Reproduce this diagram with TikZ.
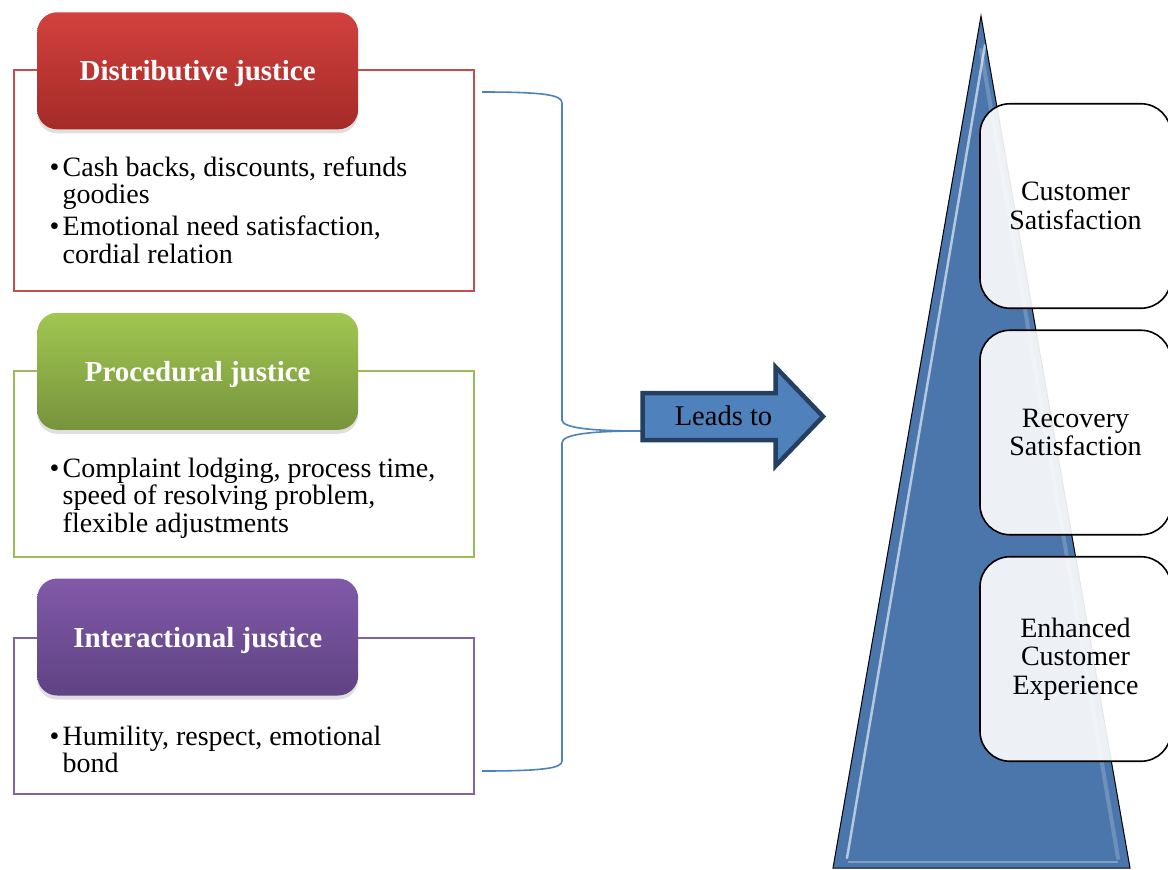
\documentclass[tikz,border=0pt]{standalone}
\usepackage{fontspec}
\setmainfont{Liberation Serif}
\usetikzlibrary{shadows}
\definecolor{redtop}{HTML}{D2413D}
\definecolor{redbot}{HTML}{A42B29}
\definecolor{redline}{HTML}{C0504D}
\definecolor{grntop}{HTML}{A1C752}
\definecolor{grnbot}{HTML}{77933C}
\definecolor{grnline}{HTML}{9BBB59}
\definecolor{purtop}{HTML}{8159A8}
\definecolor{purbot}{HTML}{5F4383}
\definecolor{purline}{HTML}{8064A2}
\definecolor{braceblue}{HTML}{4F81BD}
\definecolor{arrowfill}{HTML}{4F81BD}
\definecolor{arrowline}{HTML}{243F60}
\definecolor{tricol}{HTML}{4A76AC}
\tikzset{
  outl/.style={draw, line width=2pt, rectangle, inner sep=0pt, minimum width=460pt, fill=white},
  hdr/.style={rectangle, rounded corners=20pt, inner sep=0pt, minimum width=321pt, minimum height=117pt,
     text=white, text depth=0pt, font=\fontsize{29}{30}\selectfont\bfseries,
     drop shadow={opacity=0.25, shadow xshift=0pt, shadow yshift=-4pt}},
  bodytext/.style={anchor=base west, inner sep=0pt, font=\fontsize{28}{27.6}\selectfont},
  rbox/.style={draw=black, line width=1.6pt, fill=white, fill opacity=0.9, text opacity=1,
     rounded corners=30pt, minimum width=191pt, minimum height=204.5pt, inner sep=0pt,
     align=center, font=\fontsize{28}{28.6}\selectfont},
  bracestyle/.style={draw=braceblue, line width=1.6pt},
  arrowshape/.style={fill=arrowfill, draw=arrowline, line width=4.5pt, line join=miter},
  leadtext/.style={inner sep=0pt, font=\fontsize{28.5}{29}\selectfont}
}
\newcommand{\bl}{\textbullet}
\begin{document}
\begin{tikzpicture}[x=1pt,y=1pt]
\fill[white] (0,0) rectangle (1168,-870);
\useasboundingbox (0,0) rectangle (1168,-870);

% ---------- left: justice boxes ----------
\node[outl, draw=redline, minimum height=220.7pt] (dbox) at (243.7,-180.7) {};
\node[hdr, top color=redtop, bottom color=redbot] (dh) at (197.7,-70.8) {Distributive justice};
\node[bodytext] (dt) at (49.5,-176) {\begin{tabular}[t]{@{}l@{\hspace{3.2pt}}l@{}}
\bl & Cash backs, discounts, refunds\\
    & goodies\\[4pt]
\bl & Emotional need satisfaction,\\
    & cordial relation
\end{tabular}};

\node[outl, draw=grnline, minimum height=185.7pt] (pbox) at (243.7,-463.8) {};
\node[hdr, top color=grntop, bottom color=grnbot] (ph) at (197.7,-371.3) {Procedural justice};
\node[bodytext] (pt) at (49.5,-477) {\begin{tabular}[t]{@{}l@{\hspace{3.2pt}}l@{}}
\bl & Complaint lodging, process time,\\
    & speed of resolving problem,\\
    & flexible adjustments
\end{tabular}};

\node[outl, draw=purline, minimum height=155.5pt] (ibox) at (243.7,-716) {};
\node[hdr, top color=purtop, bottom color=purbot] (ih) at (197.7,-637) {Interactional justice};
\node[bodytext] (it) at (49.5,-745) {\begin{tabular}[t]{@{}l@{\hspace{3.2pt}}l@{}}
\bl & Humility, respect, emotional\\
    & bond
\end{tabular}};

% ---------- brace ----------
\coordinate (btop) at (482,-92);
\coordinate (bbot) at (482,-771);
\coordinate (btip) at (641,-431);
\draw[bracestyle] (btop) .. controls (545,-92) and (562,-95) .. (562,-103)
   -- (562,-420) .. controls (562,-428) and (592,-431) .. (btip);
\draw[bracestyle] (btip) .. controls (592,-431) and (562,-434) .. (562,-443)
   -- (562,-761) .. controls (562,-768) and (545,-771) .. (bbot);

% ---------- arrow ----------
\draw[arrowshape] (642.5,-393) -- (775.5,-393) -- (775.5,-367) -- (823,-416.5)
   -- (775.5,-466) -- (775.5,-440) -- (642.5,-440) -- cycle;
\node[leadtext] (leads) at (723.5,-416) {Leads to};

% ---------- triangle ----------
\fill[tricol] (981,-16) -- (1130,-868) -- (833,-868) -- cycle;
\draw[white, opacity=0.6, line width=2.5pt, line cap=round] (985,-45) -- (847,-858);
\draw[white, opacity=0.2, line width=4pt, line cap=round] (981,-50) -- (1118,-858);
\draw[white, opacity=0.3, line width=2pt] (848,-862) -- (1118,-862);
\draw[black, line width=1pt, line join=miter] (981,-16) -- (1130,-868) -- (833,-868) -- cycle;

% ---------- right boxes ----------
\node[rbox] (cs) at (1075.5,-206) {Customer\\Satisfaction};
\node[rbox] (rs) at (1075.5,-432.5) {Recovery\\Satisfaction};
\node[rbox] (ec) at (1075.5,-659) {Enhanced\\Customer\\Experience};
\end{tikzpicture}
\end{document}
